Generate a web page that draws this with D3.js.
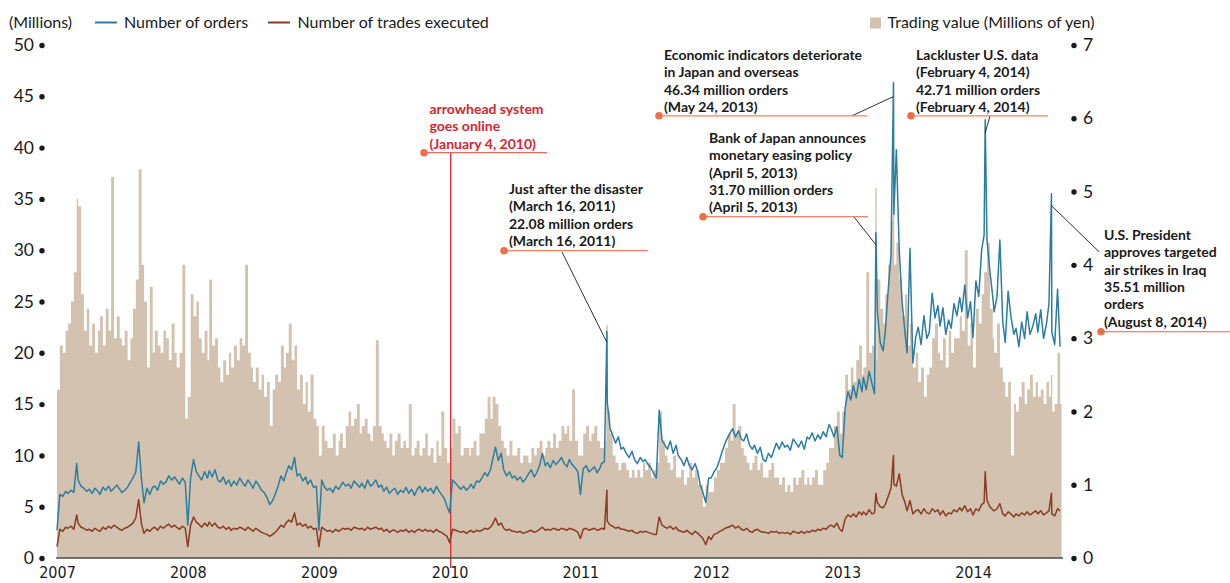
<!DOCTYPE html>
<html>
<head>
<meta charset="utf-8">
<script src="https://cdn.jsdelivr.net/npm/d3@7/dist/d3.min.js"></script>
<style>
  body { margin: 0; background: #fff; }
  svg { display: block; font-family: Lato, "Open Sans", "Noto Sans", sans-serif; }
</style>
</head>
<body>
<svg id="chart" width="1230" height="583"></svg>
<script>
// ---- Data: four readings per month (1st, 9th, 17th, 25th), Jan 2007 - Sep 2014 ----
const slotDays = [1, 9, 17, 25];

// Number of orders (millions)
const orders = [
  // 2007
  2.7, 6.2, 6.0, 6.5,  6.3, 6.6, 6.4, 9.2,  7.6, 7.0, 6.8, 6.5,  6.7, 6.3, 6.8, 6.5,
  6.2, 6.9, 6.6, 7.0,  6.5, 6.8, 7.1, 6.7,  6.4, 6.6, 6.9, 7.4,  7.8, 8.4, 11.3, 7.6,
  5.4, 6.8, 6.2, 6.9,  7.0, 6.6, 7.5, 7.2,  7.4, 8.0, 7.6, 7.9,  7.6, 7.2, 7.8, 7.4,
  // 2008
  3.2, 7.8, 9.6, 8.4,  8.0, 7.6, 8.4, 7.8,  8.5, 7.9, 8.6, 7.6,  7.4, 7.9, 7.2, 7.6,
  7.0, 7.5, 7.1, 7.8,  7.4, 7.0, 7.6, 7.2,  6.8, 7.5, 7.1, 6.6,  6.4, 5.9, 5.2, 5.6,
  6.2, 7.0, 8.0, 7.5,  8.2, 9.0, 8.6, 9.8,  8.0, 8.2, 7.5, 7.9,  7.2, 7.6, 6.9, 7.0,
  // 2009
  2.7, 7.6, 6.9, 6.6,  6.8, 6.4, 7.0, 6.7,  6.9, 7.4, 7.0, 7.2,  6.8, 7.5, 7.2, 6.9,
  7.3, 6.8, 7.6, 7.0,  7.2, 7.6, 6.9, 7.1,  6.5, 6.9, 6.3, 6.6,  6.8, 6.2, 6.6, 6.4,
  6.9, 6.3, 6.7, 6.1,  6.6, 7.0, 6.4, 6.9,  6.5, 6.8, 6.3, 7.0,  6.6, 6.2, 5.8, 5.0,
  // 2010
  4.4, 7.6, 7.3, 7.0,  6.7, 7.0, 6.6, 6.9,  7.2, 6.8, 7.5, 7.4,  7.8, 8.3, 8.0, 8.6,
  9.6, 10.8, 9.5, 10.2, 8.6, 8.0, 8.4, 7.8, 8.0, 7.6, 7.9, 7.4,  7.7, 8.2, 8.6, 7.9,
  8.3, 9.0, 10.2, 9.0, 9.3, 8.8, 9.5, 9.1,  9.4, 9.8, 9.2, 8.9,  9.6, 9.1, 8.8, 8.4,
  // 2011
  6.2, 8.7, 9.0, 8.4,  8.6, 8.9, 8.3, 8.8,  9.2, 9.4, 15.2, 12.6, 12.0, 11.2, 11.8, 10.6,
  10.8, 10.2, 9.8, 10.4, 9.6, 9.2, 9.8, 9.4, 9.6, 9.1, 8.8, 8.2,  7.8, 14.4, 11.5, 11.0,
  10.6, 11.4, 10.2, 11.0, 10.0, 9.6, 9.0, 9.8, 9.0, 8.6, 9.2, 8.4, 7.2, 6.4, 5.4, 7.8,
  // 2012
  7.8, 8.4, 8.8, 9.6,  10.4, 11.2, 11.8, 12.3, 12.6, 11.8, 12.4, 11.6, 11.4, 12.1, 11.0, 10.6,
  11.0, 10.2, 10.8, 9.6, 9.4, 10.2, 9.8, 10.6, 11.2, 10.6, 11.3, 10.8, 11.0, 10.5, 11.6, 11.2,
  10.8, 11.4, 10.6, 11.8, 11.6, 12.2, 11.4, 12.0, 11.6, 12.3, 11.8, 13.0, 12.6, 11.8, 12.8, 10.0,
  // 2013
  9.8, 14.6, 16.2, 15.4, 16.8, 15.6, 17.4, 16.2, 17.6, 16.4, 18.2, 17.0, 16.0, 24.0, 21.0, 20.2,
  22.0, 26.0, 29.5, 33.5, 39.8, 30.0, 25.0, 22.0, 20.0, 30.2, 19.0, 21.5, 22.5, 20.8, 23.6, 21.4,
  22.0, 25.8, 23.4, 24.6, 22.6, 24.4, 21.8, 23.2, 22.4, 24.8, 23.6, 25.4, 24.0, 26.6, 23.4, 25.0,
  // 2014
  21.5, 27.0, 25.5, 30.0, 31.5, 31.0, 28.0, 25.5, 24.0, 25.5, 31.0, 23.0, 21.0, 26.0, 23.5, 21.8,
  22.4, 20.6, 23.0, 21.4, 24.0, 21.8, 22.6, 23.8, 22.0, 24.2, 21.4, 22.8, 24.8, 22.0, 20.8, 26.2,
  20.6
];

// Number of trades executed (millions)
const trades = [
  // 2007
  1.1, 2.8, 2.6, 3.0,  2.9, 3.1, 2.8, 4.2,  3.4, 3.0, 2.9, 2.7,  2.8, 2.6, 2.9, 2.7,
  2.6, 3.0, 2.8, 3.1,  2.9, 3.2, 3.0, 2.8,  2.7, 2.9, 3.0, 3.2,  3.4, 3.9, 5.7, 3.3,
  2.4, 2.8, 2.6, 2.9,  3.0, 2.7, 3.1, 2.9,  3.1, 3.3, 3.0, 3.2,  3.0, 2.8, 3.1, 2.9,
  // 2008
  1.1, 3.2, 4.0, 3.5,  3.3, 3.0, 3.4, 3.1,  3.5, 3.1, 3.4, 3.0,  2.9, 3.1, 2.8, 3.0,
  2.7, 2.9, 2.8, 3.0,  2.9, 2.7, 3.0, 2.8,  2.6, 2.9, 2.7, 2.5,  2.4, 2.3, 2.1, 2.3,
  2.5, 2.8, 3.2, 3.0,  3.4, 3.7, 3.5, 4.4,  3.2, 3.4, 3.1, 3.3,  2.9, 3.1, 2.8, 2.9,
  // 2009
  1.1, 3.0, 2.8, 2.6,  2.7, 2.5, 2.8, 2.6,  2.7, 2.9, 2.8, 2.9,  2.7, 3.0, 2.9, 2.8,
  2.9, 2.7, 3.0, 2.8,  2.9, 3.0, 2.8, 2.9,  2.6, 2.8, 2.5, 2.7,  2.7, 2.5, 2.7, 2.6,
  2.8, 2.5, 2.7, 2.5,  2.7, 2.8, 2.6, 2.8,  2.6, 2.7, 2.5, 2.8,  2.6, 2.5, 2.3, 2.1,
  // 2010
  1.5, 2.8, 2.7, 2.6,  2.5, 2.6, 2.4, 2.6,  2.7, 2.5, 2.7, 2.6,  2.7, 2.9, 2.8, 3.0,
  3.3, 3.9, 3.2, 3.4,  2.9, 2.7, 2.8, 2.6,  2.6, 2.5, 2.6, 2.4,  2.5, 2.6, 2.7, 2.5,
  2.6, 2.8, 3.0, 2.7,  2.8, 2.7, 2.9, 2.8,  2.7, 2.9, 2.8, 2.7,  2.9, 2.8, 2.7, 2.5,
  // 2011
  1.9, 2.8, 2.9, 2.7,  2.8, 2.9, 2.7, 2.8,  2.9, 2.8, 3.6, 3.2,  3.1, 2.9, 3.0, 2.8,
  2.8, 2.7, 2.6, 2.7,  2.5, 2.4, 2.6, 2.5,  2.6, 2.5, 2.4, 2.3,  2.3, 4.0, 3.2, 3.0,
  2.9, 3.1, 2.8, 3.0,  2.7, 2.6, 2.5, 2.7,  2.5, 2.3, 2.6, 2.4,  2.2, 1.9, 1.3, 2.1,
  // 2012
  1.8, 2.3, 2.4, 2.6,  2.7, 2.9, 3.0, 3.1,  3.2, 2.9, 3.1, 2.8,  2.7, 2.9, 2.6, 2.5,
  2.7, 2.8, 2.6, 2.5,  2.5, 2.4, 2.6, 2.5,  2.6, 2.4, 2.5, 2.4,  2.5, 2.3, 2.6, 2.5,
  2.4, 2.6, 2.4, 2.6,  2.5, 2.7, 2.6, 2.8,  2.7, 2.9, 2.8, 3.1,  3.2, 3.0, 3.4, 2.8,
  // 2013
  2.6, 3.8, 4.2, 4.0,  4.3, 4.0, 4.5, 4.2,  4.5, 4.2, 4.7, 4.3,  4.4, 5.4, 5.0, 4.9,
  5.2, 6.0, 6.8, 7.2,  7.0, 8.2, 6.2, 5.4,  4.6, 5.6, 4.3, 4.6,  4.7, 4.3, 4.8, 4.4,
  4.3, 4.8, 4.5, 4.7,  4.2, 4.6, 4.1, 4.4,  4.3, 4.7, 4.5, 4.9,  4.6, 5.1, 4.5, 4.8,
  // 2014
  4.2, 4.8, 4.6, 5.2,  5.4, 5.6, 5.0, 4.7,  4.6, 4.8, 5.3, 4.3,  4.1, 4.5, 4.3, 4.0,
  4.3, 4.1, 4.4, 4.2,  4.5, 4.2, 4.4, 4.6,  4.3, 4.6, 4.2, 4.4,  4.6, 4.3, 4.1, 4.8,
  4.6
];

// Trading value (right axis units)
const tradingValue = [
  // 2007
  2.3, 2.9, 2.8, 3.1,  3.2, 3.5, 3.9, 4.9,  4.8, 3.6, 3.1, 3.4,  2.9, 3.2, 2.8, 3.1,
  3.3, 2.9, 3.4, 3.1,  5.2, 3.0, 3.3, 3.0,  2.9, 3.1, 2.7, 3.0,  3.4, 3.8, 5.3, 4.0,
  3.5, 2.6, 3.7, 2.8,  3.1, 2.9, 2.8, 3.1,  3.0, 2.7, 3.2, 2.8,  2.6, 2.8, 4.0, 1.9,
  // 2008
  2.2, 3.6, 3.3, 3.5,  3.0, 2.8, 3.1, 2.7,  3.8, 2.9, 3.0, 2.6,  2.4, 2.7, 2.5, 2.8,
  2.6, 2.9, 2.7, 3.0,  2.9, 4.0, 2.8, 2.6,  2.4, 2.6, 2.3, 2.5,  2.2, 2.4, 1.8, 2.3,
  2.5, 2.4, 2.9, 2.6,  2.8, 3.2, 2.7, 2.9,  2.3, 2.5, 2.1, 2.4,  2.0, 2.5, 1.9, 1.8,
  // 2009
  1.4, 1.8, 1.6, 1.5,  1.5, 1.7, 1.4, 1.6,  1.7, 1.5, 1.8, 2.0,  1.8, 1.9, 2.1, 1.7,
  1.8, 1.9, 1.7, 1.6,  1.8, 2.97, 1.8, 1.7, 1.6, 1.5, 1.7, 1.4,  1.6, 1.7, 1.5, 1.6,
  1.5, 2.1, 1.4, 1.5,  1.6, 1.4, 1.5, 1.7,  1.4, 1.5, 1.3, 1.6,  1.4, 2.0, 1.5, 1.3,
  // 2010
  1.5, 1.9, 1.7, 1.8,  1.4, 1.5, 1.5, 1.4,  1.5, 1.6, 1.4, 1.7,  1.7, 1.9, 2.2, 1.9,
  2.2, 2.1, 1.8, 1.6,  1.5, 1.4, 1.6, 1.4,  1.4, 1.5, 1.3, 1.4,  1.4, 1.3, 1.5, 1.4,
  1.5, 1.6, 1.4, 1.5,  1.6, 1.5, 1.7, 1.5,  1.6, 1.8, 1.7, 1.8,  1.6, 2.3, 1.6, 1.4,
  // 2011
  1.4, 1.7, 1.8, 1.6,  1.7, 1.8, 1.6, 1.5,  1.5, 1.6, 2.0, 1.7,  1.4, 1.3, 1.2, 1.3,
  1.3, 1.2, 1.1, 1.2,  1.1, 1.2, 1.1, 1.3,  1.2, 1.3, 1.1, 1.2,  1.3, 2.0, 1.6, 1.4,
  1.3, 1.2, 1.4, 1.1,  1.1, 1.2, 1.0, 1.1,  1.3, 1.1, 1.2, 1.0,  1.0, 0.7, 1.0, 0.9,
  // 2012
  0.9, 1.1, 1.2, 1.3,  1.3, 1.5, 1.7, 1.6,  2.1, 1.7, 1.8, 1.5,  1.4, 1.3, 1.2, 1.3,
  1.4, 1.2, 1.3, 1.1,  1.1, 1.2, 1.3, 1.1,  1.1, 1.0, 1.1, 0.9,  1.0, 0.9, 1.1, 1.0,
  1.1, 1.2, 1.0, 1.1,  1.0, 1.1, 1.2, 1.0,  1.0, 1.2, 1.3, 1.5,  1.5, 1.8, 2.0, 1.7,
  // 2013
  2.0, 2.5, 2.3, 2.6,  2.4, 2.7, 2.9, 2.5,  2.6, 3.9, 2.8, 2.9,  2.7, 3.8, 3.4, 3.2,
  3.6, 4.0, 4.6, 4.0,  4.3, 3.8, 3.3, 3.6,  2.9, 3.2, 2.6, 2.8,  2.4, 2.6, 2.2, 2.5,
  2.6, 3.0, 3.2, 2.8,  2.7, 3.0, 2.6, 3.1,  2.8, 3.0, 3.0, 3.3,  3.1, 4.2, 2.9, 3.2,
  // 2014
  2.6, 3.4, 3.2, 3.6,  3.9, 4.3, 3.4, 3.0,  2.8, 3.2, 2.6, 2.4,  2.2, 2.4, 1.4, 2.1,
  2.0, 2.2, 2.4, 2.1,  2.3, 2.5, 2.2, 2.4,  2.2, 2.3, 2.1, 2.4,  2.2, 2.0, 2.1, 2.8,
  2.1
];

// Notable days
const eventDates  = ["2011-03-16", "2013-04-05", "2013-05-24", "2014-02-04", "2014-08-08"];
const eventOrders = [22.08, 31.70, 46.34, 42.71, 35.51];
const eventTrades = [6.6, 6.3, 10.0, 8.4, 6.3];
const eventValue  = [3.18, 5.05, 4.8, 3.6, 2.5];
const eventNotes = [
  ["Just after the disaster", "(March 16, 2011)", "{v} million orders", "(March 16, 2011)"],
  ["Bank of Japan announces", "monetary easing policy", "(April 5, 2013)", "{v} million orders", "(April 5, 2013)"],
  ["Economic indicators deteriorate", "in Japan and overseas", "{v} million orders", "(May 24, 2013)"],
  ["Lackluster U.S. data", "(February 4, 2014)", "{v} million orders", "(February 4, 2014)"],
  ["U.S. President", "approves targeted", "air strikes in Iraq", "{v} million", "orders", "(August 8, 2014)"]
];

const launchDate = "2010-01-04";
const launchNote = ["arrowhead system", "goes online", "(January 4, 2010)"];

const yearTicks  = [2007, 2008, 2009, 2010, 2011, 2012, 2013, 2014];
const leftTicks  = [0, 5, 10, 15, 20, 25, 30, 35, 40, 45, 50];
const rightTicks = [0, 1, 2, 3, 4, 5, 6, 7];

// ---- Assemble rows ----
const parse = d3.timeParse("%Y-%m-%d");
const slotDate = i => new Date(2007, Math.floor(i / 4), slotDays[i % 4]);
const slots = orders.map((v, i) => ({ date: slotDate(i), orders: v, trades: trades[i], value: tradingValue[i], event: false }));
const events = eventDates.map((d, i) => ({ date: parse(d), orders: eventOrders[i], trades: eventTrades[i], value: eventValue[i], event: true }));
const rows = slots.concat(events).sort((a, b) => a.date - b.date);

// ---- Scales ----
const endDate = new Date(2014, 8, 5);
const x  = d3.scaleTime().domain([new Date(2007, 0, 1), endDate]).range([57, 1061.5]);
const yL = d3.scaleLinear().domain([0, 50]).range([558, 45]);
const yR = d3.scaleLinear().domain([0, 7]).range([558, 45]);

const svg = d3.select("#chart");
const C = {
  blue: "#2c7ea0", brown: "#8a3b24", tan: "#d3c2af",
  red: "#d7262f", orange: "#ee7048", guide: "#f08462", ink: "#1a1a1a"
};

// ---- Trading value bars (one path so neighbouring bars leave no seams) ----
const barPath = d3.path();
const addBar = (x0, w, v) => barPath.rect(x0, yR(v), w, yR(0) - yR(v));
slots.forEach((d, i) => {
  const next = i < slots.length - 1 ? slots[i + 1].date : endDate;
  addBar(x(d.date), x(next) - x(d.date) + 0.05, d.value);
});
events.forEach(d => addBar(x(d.date) - 0.6, 1.4, d.value));
svg.append("path").attr("d", barPath.toString()).attr("fill", C.tan);

// ---- arrowhead launch marker ----
const xl = x(parse(launchDate));
svg.append("line").attr("x1", xl).attr("x2", xl).attr("y1", 152.7).attr("y2", 568)
  .attr("stroke", C.red).attr("stroke-width", 1.3);

// ---- Lines ----
const lineOrders = d3.line().x(d => x(d.date)).y(d => yL(d.orders));
const lineTrades = d3.line().x(d => x(d.date)).y(d => yL(d.trades));
svg.append("path").datum(rows).attr("d", lineTrades)
  .attr("fill", "none").attr("stroke", C.brown).attr("stroke-width", 1.5).attr("stroke-linejoin", "round");
svg.append("path").datum(rows).attr("d", lineOrders)
  .attr("fill", "none").attr("stroke", C.blue).attr("stroke-width", 1.5).attr("stroke-linejoin", "round");

// ---- Axes ----
svg.append("line").attr("x1", 56).attr("x2", 1063).attr("y1", 558).attr("y2", 558)
  .attr("stroke", "#4a4a4a").attr("stroke-width", 1.6);

const axL = svg.append("g").attr("transform", "translate(42,0)")
  .call(d3.axisLeft(yL).tickValues(leftTicks).tickFormat(d3.format("d")).tickSize(0).tickPadding(8));
const axR = svg.append("g").attr("transform", "translate(1074,0)")
  .call(d3.axisRight(yR).tickValues(rightTicks).tickFormat(d3.format("d")).tickSize(0).tickPadding(9));
[axL, axR].forEach(g => {
  g.select(".domain").remove();
  g.selectAll(".tick text").attr("font-family", "Lato, sans-serif").attr("font-size", 17.5).attr("fill", C.ink);
  g.selectAll(".tick").append("circle").attr("r", 2.7).attr("fill", C.ink);
});

const axX = svg.append("g").attr("transform", "translate(0,558)")
  .call(d3.axisBottom(x).tickValues(yearTicks.map(y => new Date(y, 0, 1)))
    .tickFormat(d3.timeFormat("%Y")).tickSize(0).tickPadding(9));
axX.select(".domain").remove();
axX.selectAll(".tick text")
  .attr("font-family", "'Liberation Sans Narrow', 'DejaVu Sans Condensed', sans-serif")
  .attr("font-size", 16).attr("fill", C.ink);

// ---- Legend ----
const legend = svg.append("g").attr("font-size", 16).attr("fill", C.ink);
legend.append("text").attr("x", 9).attr("y", 27.5).text("(Millions)");
legend.append("line").attr("x1", 95).attr("x2", 117).attr("y1", 22.5).attr("y2", 22.5).attr("stroke", C.blue).attr("stroke-width", 2);
legend.append("text").attr("x", 124).attr("y", 27.5).text("Number of orders");
legend.append("line").attr("x1", 268).attr("x2", 290).attr("y1", 22.5).attr("y2", 22.5).attr("stroke", C.brown).attr("stroke-width", 2);
legend.append("text").attr("x", 297.5).attr("y", 27.5).text("Number of trades executed");
legend.append("rect").attr("x", 870).attr("y", 17.5).attr("width", 11).attr("height", 11).attr("fill", C.tan);
legend.append("text").attr("x", 887.5).attr("y", 27.5).text("Trading value (Millions of yen)");

// ---- Annotations ----
const lh = 17.3;
const noteLayout = [
  { tx: 509,  ty: 194, dot: [504, 250.7], end: 648,  lead: [562, 252],   off: 11 },
  { tx: 709,  ty: 143, dot: [703, 216.7], end: 868,  lead: [854, 217],   off: 12 },
  { tx: 664,  ty: 60,  dot: [659, 115.8], end: 867,  lead: [852, 115.8], off: 14 },
  { tx: 916,  ty: 60,  dot: [911, 115.8], end: 1048, lead: [990, 116],   off: 13 },
  { tx: 1104, ty: 240, dot: [1101, 331.7], end: 1230, lead: [1099, 251.7], off: 12 }
];
const notes = svg.append("g").attr("font-size", 14).attr("font-weight", 700).attr("fill", C.ink);
eventNotes.forEach((lines, i) => {
  const L = noteLayout[i];
  const ex = x(parse(eventDates[i])), ey = yL(eventOrders[i]) + L.off;
  notes.append("line").attr("x1", L.lead[0]).attr("y1", L.lead[1]).attr("x2", ex).attr("y2", ey)
    .attr("stroke", C.ink).attr("stroke-width", 0.9);
  notes.append("line").attr("x1", L.dot[0]).attr("x2", L.end).attr("y1", L.dot[1]).attr("y2", L.dot[1])
    .attr("stroke", C.guide).attr("stroke-width", 1.3);
  notes.append("circle").attr("cx", L.dot[0]).attr("cy", L.dot[1]).attr("r", 3.8).attr("fill", C.orange);
  const t = notes.append("text").attr("x", L.tx).attr("y", L.ty);
  lines.forEach((s, k) => t.append("tspan").attr("x", L.tx).attr("y", L.ty + k * lh)
    .text(s.replace("{v}", eventOrders[i].toFixed(2))));
});

// launch note
const ln = svg.append("g").attr("font-size", 14).attr("font-weight", 700).attr("fill", C.red);
ln.append("line").attr("x1", 424).attr("x2", 547).attr("y1", 152.7).attr("y2", 152.7)
  .attr("stroke", "#ec6a5c").attr("stroke-width", 1.3);
ln.append("circle").attr("cx", 424).attr("cy", 152.7).attr("r", 3.8).attr("fill", C.orange);
const lt = ln.append("text");
launchNote.forEach((s, k) => lt.append("tspan").attr("x", 429.5).attr("y", 114 + k * lh).text(s));
</script>
</body>
</html>
